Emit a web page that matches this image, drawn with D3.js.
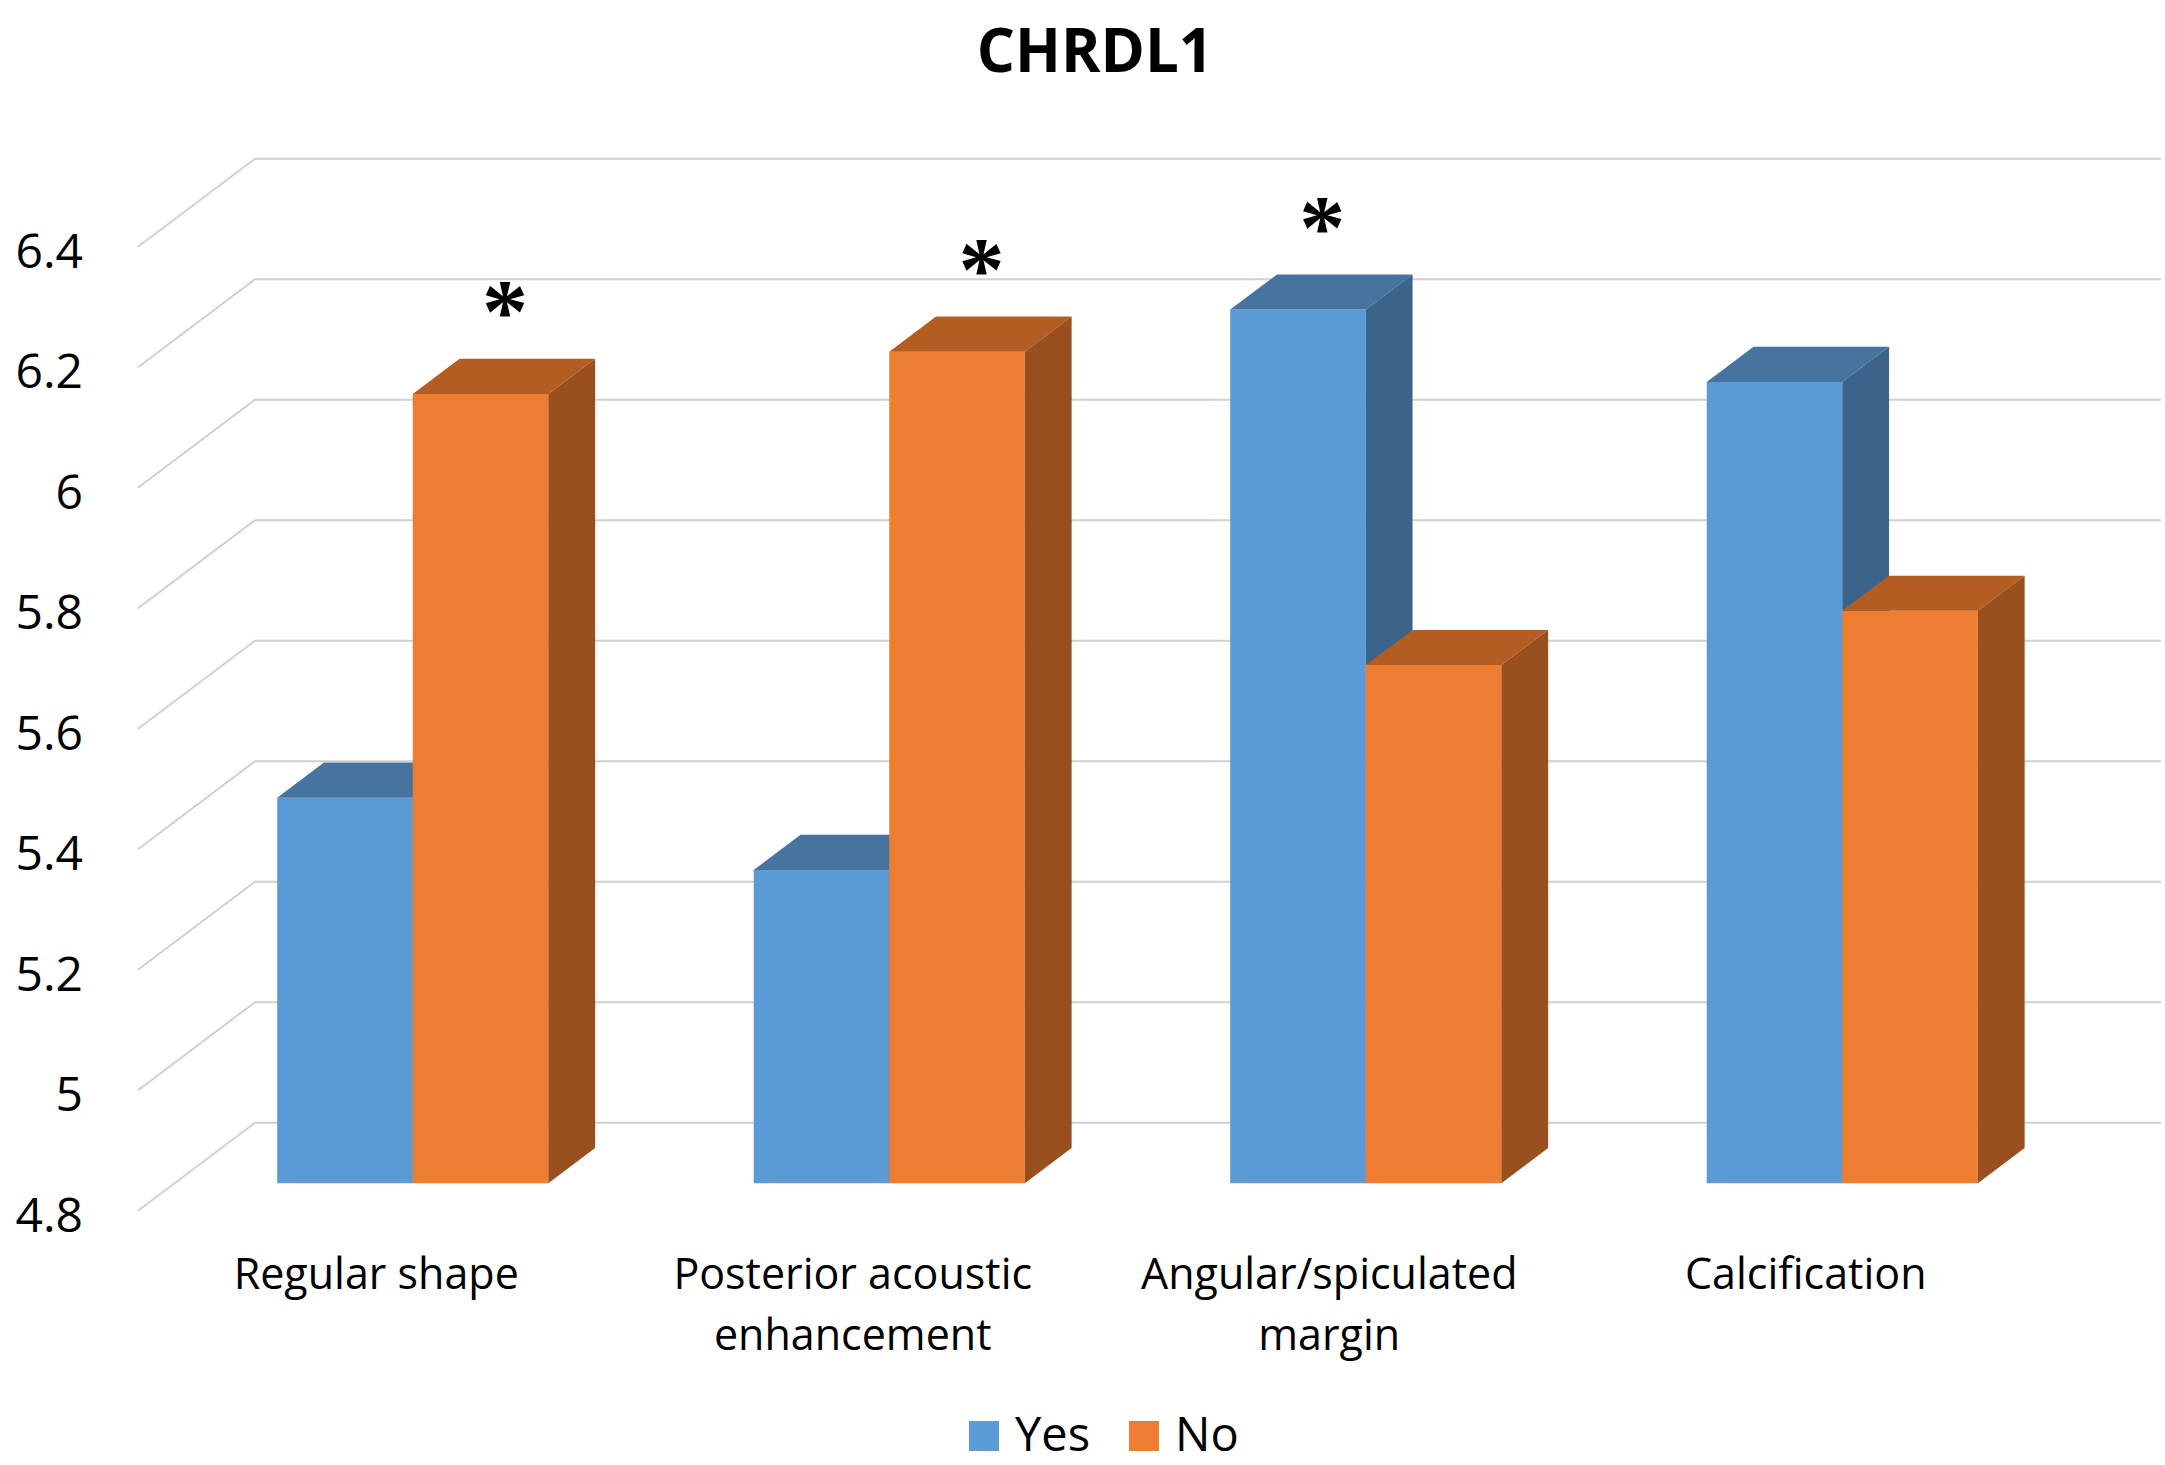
<!DOCTYPE html>
<html>
<head>
<meta charset="utf-8">
<script src="https://cdn.jsdelivr.net/npm/d3@7"></script>
<style>
  html, body { margin: 0; padding: 0; background: #fff; }
  svg { display: block; }
  text { font-family: "Open Sans", "Noto Sans", sans-serif; fill: #000; }
</style>
</head>
<body>
<svg id="chart" width="2165" height="1465"></svg>
<script>
// Data
const title = "CHRDL1";
const categories = ["Regular shape", "Posterior acoustic enhancement", "Angular/spiculated margin", "Calcification"];
const categoryLines = [["Regular shape"], ["Posterior acoustic", "enhancement"], ["Angular/spiculated", "margin"], ["Calcification"]];
const seriesNames = ["Yes", "No"];
const yesValues = [5.44, 5.32, 6.25, 6.13];
const noValues = [6.11, 6.18, 5.66, 5.75];
const starred = ["No", "No", "Yes", null]; // which bar carries the asterisk
const yTicks = [4.8, 5, 5.2, 5.4, 5.6, 5.8, 6, 6.2, 6.4];

const colors = {
  Yes: { front: "#5b9bd5", top: "#46749f", side: "#3a6489" },
  No: { front: "#ed7d31", top: "#b45d22", side: "#994f1e" }
};

const svg = d3.select("#chart");

// oblique 3D: front plane of the floor + a depth vector
const x0 = 138, x1 = 2044;
const depth = [117, -88];
const barFront = 0.312, barBack = 0.712;

const y = d3.scaleLinear().domain([4.8, 6.4]).range([1210.7, 246.7]);
const x = d3.scaleBand().domain(categories).range([x0, x1]);
const groupW = x.bandwidth() * 0.569;
const xs = d3.scaleBand().domain(seriesNames).range([0, groupW]);

// project (screen x at front, value, depth fraction)
function P(px, v, f) {
  return [px + f * depth[0], y(v) + f * depth[1]];
}

// title
svg.append("text")
  .attr("x", 1095).attr("y", 72)
  .attr("text-anchor", "middle")
  .style("font-size", "60px").style("font-weight", "bold")
  .text(title);

// walls: back gridlines + left wall diagonals
const grid = svg.append("g").attr("stroke", "#d0d0d0").attr("stroke-width", 2).attr("fill", "none");
yTicks.forEach(t => {
  const a = P(x0, t, 0), b = P(x0, t, 1), c = P(x1, t, 1);
  grid.append("path").attr("d", d3.line()([a, b, c]));
});

// y tick labels
svg.append("g").selectAll("text").data(yTicks).join("text")
  .attr("x", 83).attr("y", d => y(d) + 21)
  .attr("text-anchor", "end")
  .style("font-size", "48px")
  .text(d => d3.format("~g")(d));

// bars
const rows = categories.map((c, i) => ({ cat: c, Yes: yesValues[i], No: noValues[i], star: starred[i] }));
const bars = svg.append("g");
const base = y.domain()[0];
const poly = pts => "M" + pts.map(p => p.join(",")).join("L") + "Z";

rows.forEach(r => {
  const gx = x(r.cat) + (x.bandwidth() - groupW) / 2;
  seriesNames.forEach(s => {
    const xa = gx + xs(s), xb = xa + xs.bandwidth();
    const v = r[s], col = colors[s];
    bars.append("path").attr("fill", col.front)
      .attr("d", poly([P(xa, base, barFront), P(xb, base, barFront), P(xb, v, barFront), P(xa, v, barFront)]));
    bars.append("path").attr("fill", col.top)
      .attr("d", poly([P(xa, v, barFront), P(xb, v, barFront), P(xb, v, barBack), P(xa, v, barBack)]));
    bars.append("path").attr("fill", col.side)
      .attr("d", poly([P(xb, base, barFront), P(xb, v, barFront), P(xb, v, barBack), P(xb, base, barBack)]));
  });
  if (r.star) {
    const xa = gx + xs(r.star);
    const mid = (barFront + barBack) / 2;
    const p = P(xa + xs.bandwidth() / 2, r[r.star], mid);
    svg.append("text")
      .attr("x", p[0] + 1).attr("y", p[1] - 34)
      .attr("text-anchor", "middle")
      .style("font-family", "'Liberation Serif', serif")
      .style("font-weight", "bold")
      .style("font-size", "92px")
      .text("*");
  }
});

// category labels
const labels = svg.append("g");
categories.forEach((c, i) => {
  const cx = x(c) + x.bandwidth() / 2;
  categoryLines[i].forEach((line, j) => {
    labels.append("text")
      .attr("x", cx).attr("y", 1289 + j * 61)
      .attr("text-anchor", "middle")
      .style("font-size", "43px")
      .text(line);
  });
});

// legend
const legendX = [969, 1129];
const legend = svg.append("g");
seriesNames.forEach((s, i) => {
  legend.append("rect")
    .attr("x", legendX[i]).attr("y", 1421).attr("width", 30).attr("height", 30)
    .attr("fill", colors[s].front);
  legend.append("text")
    .attr("x", legendX[i] + 46).attr("y", 1451)
    .style("font-size", "47px")
    .text(s);
});
</script>
</body>
</html>
